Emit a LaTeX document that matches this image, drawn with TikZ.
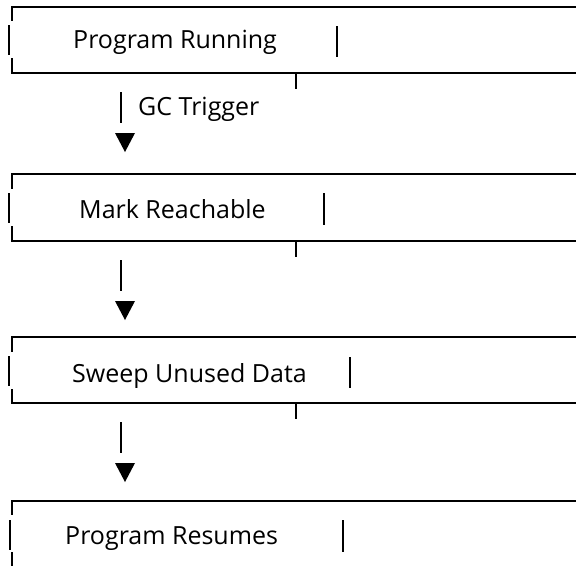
\documentclass[tikz,border=0pt]{standalone}
\usepackage{fontspec}
\setmainfont{Open Sans}
\begin{document}
\begin{tikzpicture}[x=1pt,y=-1pt]
\tikzset{
  rule/.style={line width=2pt},
  glyphbar/.style={line width=1.7pt},
  caption/.style={font=\fontsize{25}{30}\selectfont, anchor=base west, inner sep=0pt},
  tip/.style={fill=black, draw=none}
}
\useasboundingbox (0,0) rectangle (576,566);

% ---- Program Running ----
\draw[rule] (576,7) -- (12,7) -- (12,21);
\draw[glyphbar] (9,25) -- (9,55);
\draw[rule] (12,58) -- (12,73) -- (576,73);
\node[caption] (run) at (73,48) {Program Running};
\draw[glyphbar] (337,26) -- (337,57);
\draw[rule] (296,73) -- (296,89);

% GC trigger step
\draw[glyphbar] (121,92) -- (121,123);
\node[caption] (gc) at (138,115) {GC Trigger};
\fill[tip] (115,133) -- (135,133) -- (125,152) -- cycle;

% ---- Mark Reachable ----
\draw[rule] (576,174) -- (12,174) -- (12,189);
\draw[glyphbar] (9,193) -- (9,223);
\draw[rule] (12,226) -- (12,241) -- (576,241);
\node[caption] (mark) at (79,218) {Mark Reachable};
\draw[glyphbar] (324,193) -- (324,225);
\draw[rule] (296,241) -- (296,257);

\draw[glyphbar] (121,260) -- (121,291);
\fill[tip] (115,301) -- (135,301) -- (125,320) -- cycle;

% ---- Sweep Unused Data ----
\draw[rule] (576,337) -- (12,337) -- (12,352);
\draw[glyphbar] (9,356) -- (9,386);
\draw[rule] (12,389) -- (12,403) -- (576,403);
\node[caption] (sweep) at (72,382) {Sweep Unused Data};
\draw[glyphbar] (350,357) -- (350,388);
\draw[rule] (296,403) -- (296,419);

\draw[glyphbar] (121,422) -- (121,453);
\fill[tip] (115,463) -- (135,463) -- (125,482) -- cycle;

% ---- Program Resumes ----
\draw[rule] (576,501) -- (12,501) -- (12,515);
\draw[glyphbar] (10,520) -- (10,550);
\draw[rule] (12,552) -- (12,566);
\node[caption] (resume) at (65,544) {Program Resumes};
\draw[glyphbar] (343,520) -- (343,552);
\end{tikzpicture}
\end{document}
